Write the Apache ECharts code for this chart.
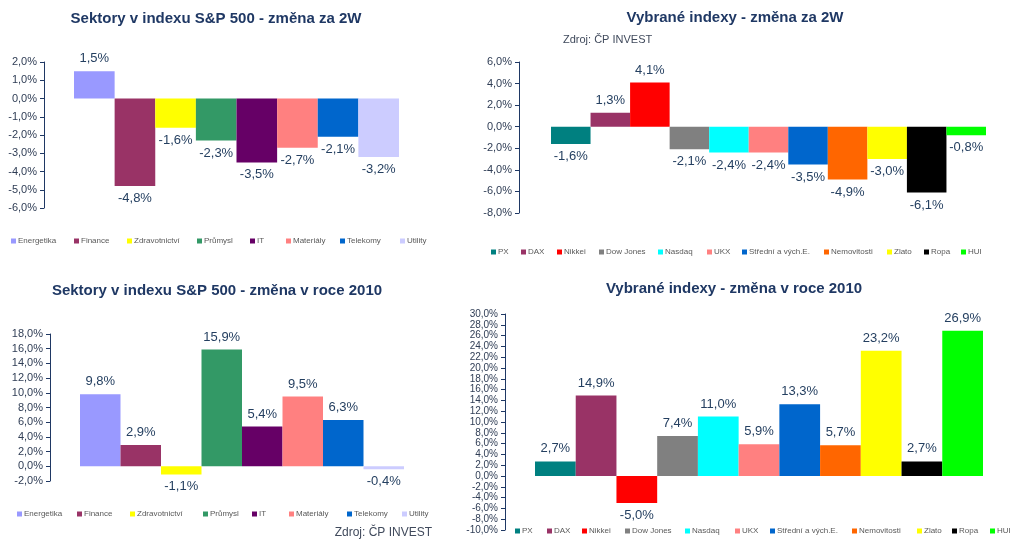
<!DOCTYPE html>
<html>
<head>
<meta charset="utf-8">
<script src="https://cdn.jsdelivr.net/npm/echarts@6/dist/echarts.min.js"></script>
<style>
html,body{margin:0;padding:0;background:#fff;}
#c{width:1024px;height:544px;}
</style>
</head>
<body>
<div id="c"></div>
<script>
// ---- data ----
const sectors = ['Energetika','Finance','Zdravotnictví','Průmysl','IT','Materiály','Telekomy','Utility'];
const sectorColors = ['#9999FF','#993366','#FFFF00','#339966','#660066','#FF8080','#0066CC','#CCCCFF'];
const sp500Change2W = [1.5,-4.8,-1.6,-2.3,-3.5,-2.7,-2.1,-3.2];
const sp500Change2010 = [9.8,2.9,-1.1,15.9,5.4,9.5,6.3,-0.4];

const indexes = ['PX','DAX','Nikkei','Dow Jones','Nasdaq','UKX','Střední a vých.E.','Nemovitosti','Zlato','Ropa','HUI'];
const indexColors = ['#008080','#993366','#FF0000','#808080','#00FFFF','#FF8080','#0066CC','#FF6600','#FFFF00','#000000','#00FF00'];
const indexChange2W = [-1.6,1.3,4.1,-2.1,-2.4,-2.4,-3.5,-4.9,-3.0,-6.1,-0.8];
const indexChange2010 = [2.7,14.9,-5.0,7.4,11.0,5.9,13.3,5.7,23.2,2.7,26.9];

const titles = [
  'Sektory v indexu S&P 500 - změna za 2W',
  'Vybrané indexy - změna za 2W',
  'Sektory v indexu S&P 500 - změna v roce 2010',
  'Vybrané indexy - změna v roce 2010'
];
const axisMin = [-6,-8,-2,-10];
const axisMax = [2,6,18,30];
const axisStep = [1,2,2,2];
const sourceText = 'Zdroj: ČP INVEST';

// ---- layout (positions / styles only) ----
const FONT = '"Liberation Sans", Arial, sans-serif';
const panels = [
  {cats:sectors, colors:sectorColors, vals:sp500Change2W, title:titles[0], tx:216, ty:19,
   grid:{left:74, top:62, width:325, height:146}, offset:30, tickFont:11,
   legendY:242, legendX:[11,74,127,197,250,286,340,400]},
  {cats:indexes, colors:indexColors, vals:indexChange2W, title:titles[1], tx:735, ty:18,
   grid:{left:551, top:62, width:435, height:151}, offset:32, tickFont:11,
   legendY:253, legendX:[491,521,557,599,658,707,742,824,887,924,961]},
  {cats:sectors, colors:sectorColors, vals:sp500Change2010, title:titles[2], tx:217, ty:291,
   grid:{left:80, top:334, width:324, height:147}, offset:30, tickFont:11,
   legendY:515, legendX:[17,77,130,203,252,289,347,402]},
  {cats:indexes, colors:indexColors, vals:indexChange2010, title:titles[3], tx:734, ty:289,
   grid:{left:535, top:314, width:448, height:216}, offset:30, tickFont:10,
   legendY:532, legendX:[515,547,582,625,685,735,770,852,917,952,990]}
];

const pct = v => v.toFixed(1).replace('.', ',') + '%';

const grids = [], xAxes = [], yAxes = [], series = [], legends = [], graphics = [];
panels.forEach((p, pi) => {
  grids.push(Object.assign({containLabel:false}, p.grid));
  xAxes.push({type:'category', gridIndex:pi, data:p.cats, show:false, boundaryGap:true});
  yAxes.push({
    type:'value', gridIndex:pi, min:axisMin[pi], max:axisMax[pi], interval:axisStep[pi],
    offset:p.offset,
    axisLine:{show:true, lineStyle:{color:'#1F3864', width:1}},
    axisTick:{show:true, inside:false, length:4, lineStyle:{color:'#1F3864'}},
    splitLine:{show:false},
    axisLabel:{formatter:v => pct(v), fontSize:p.tickFont, color:'#2F3D55', fontFamily:FONT, margin:7}
  });
  p.cats.forEach((name, i) => {
    const data = p.cats.map(() => '-');
    const v = p.vals[i];
    data[i] = {value:v, label:{position: v < 0 ? 'bottom' : 'top'}};
    series.push({
      type:'bar', name:name, xAxisIndex:pi, yAxisIndex:pi, stack:'s'+pi,
      barCategoryGap:0, barWidth:'100%',
      itemStyle:{color:p.colors[i]},
      label:{show:true, formatter:o => pct(o.value), fontSize:13, color:'#243F60',
             fontFamily:FONT, distance:6},
      emphasis:{disabled:true},
      data:data
    });
    legends.push({
      data:[name], left:p.legendX[i], top:p.legendY - 5, padding:0, itemGap:0,
      itemWidth:5, itemHeight:5, icon:'rect', selectedMode:false,
      textStyle:{fontSize:8, color:'#595959', fontFamily:FONT, padding:[0,0,0,-3]}
    });
  });
  graphics.push({
    type:'text', x:p.tx, y:p.ty,
    style:{text:p.title, align:'center', verticalAlign:'middle',
           fontSize:15, fontWeight:'bold', fontFamily:FONT, fill:'#1F3864'}
  });
});
graphics.push({type:'text', x:563, y:40,
  style:{text:sourceText, align:'left', verticalAlign:'middle', fontSize:11, fontFamily:FONT, fill:'#404A5C'}});
graphics.push({type:'text', x:432, y:533,
  style:{text:sourceText, align:'right', verticalAlign:'middle', fontSize:12, fontFamily:FONT, fill:'#404A5C'}});

const chart = echarts.init(document.getElementById('c'), null, {renderer:'canvas'});
chart.setOption({
  animation:false,
  backgroundColor:'#ffffff',
  grid:grids, xAxis:xAxes, yAxis:yAxes, series:series, legend:legends, graphic:graphics
});
</script>
</body>
</html>
